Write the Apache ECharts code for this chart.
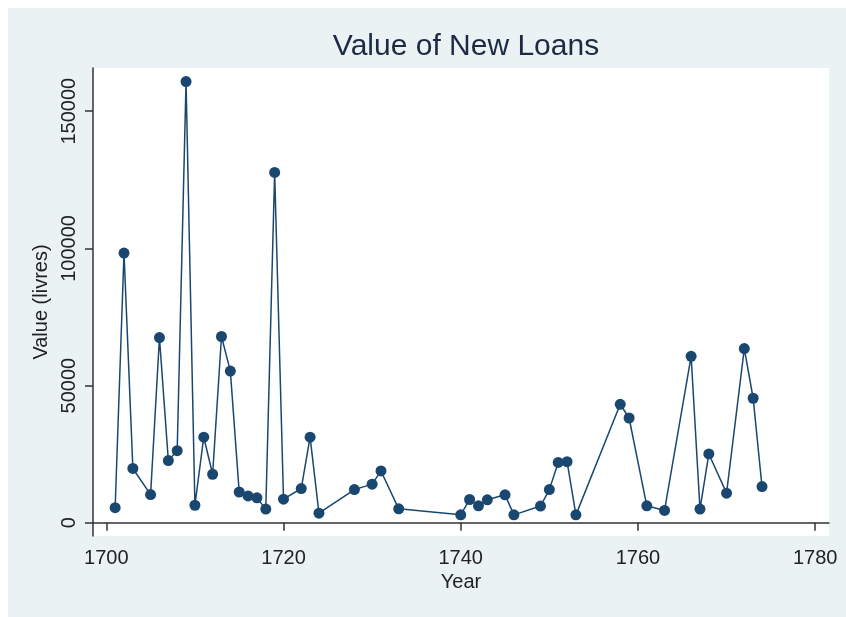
<!DOCTYPE html>
<html>
<head>
<meta charset="utf-8">
<script src="https://cdn.jsdelivr.net/npm/echarts@6/dist/echarts.min.js"></script>
<style>
  html, body { margin: 0; padding: 0; background: #fff; }
  #chart { width: 846px; height: 617px; }
</style>
</head>
<body>
<div id="chart"></div>
<script>
// loan years and values (livres)
const years = [1701, 1702, 1703, 1705, 1706, 1707, 1708, 1709, 1710, 1711,
  1712, 1713, 1714, 1715, 1716, 1717, 1718, 1719, 1720, 1722,
  1723, 1724, 1728, 1730, 1731, 1733, 1740, 1741, 1742, 1743,
  1745, 1746, 1749, 1750, 1751, 1752, 1753, 1758, 1759, 1761,
  1763, 1766, 1767, 1768, 1770, 1772, 1773, 1774];
const values = [5500, 98300, 19800, 10300, 67500, 22700, 26300, 160800, 6400, 31200,
  17700, 67900, 55300, 11200, 9800, 9100, 5000, 127700, 8600, 12500,
  31200, 3500, 12100, 14100, 18900, 5100, 2900, 8500, 6200, 8400,
  10200, 2900, 6100, 12100, 22000, 22300, 2900, 43200, 38200, 6200,
  4500, 60700, 5000, 25100, 10800, 63500, 45400, 13200];
const xTicks = [1700, 1720, 1740, 1760, 1780];
const yTicks = [0, 50000, 100000, 150000];

const font = "'Liberation Sans', Arial, sans-serif";
const navy = "#1a476f";
const ink = "#222";

const chart = echarts.init(document.getElementById("chart"), null, { renderer: "canvas" });

chart.setOption({
  backgroundColor: "#fff",
  animation: false,
  graphic: [{
    type: "rect",
    z: -10,
    shape: { x: 8, y: 8, width: 838, height: 609 },
    style: { fill: "#eaf2f3" }
  }],
  title: {
    text: "Value of New Loans",
    left: 461,
    top: 27,
    textAlign: "center",
    textStyle: { fontFamily: font, fontSize: 30, fontWeight: "normal", color: "#1c2a44" }
  },
  grid: {
    left: 93, right: 17, top: 68, bottom: 81,
    show: true, backgroundColor: "#fff", borderWidth: 0
  },
  xAxis: {
    type: "value",
    min: 1698.5,
    max: 1781.56,
    name: "Year",
    nameLocation: "middle",
    nameGap: 34,
    nameTextStyle: { fontFamily: font, fontSize: 20, color: ink },
    axisLine: { show: true, lineStyle: { color: "#333", width: 1.5 } },
    axisTick: { show: true, length: 8, customValues: xTicks, lineStyle: { color: "#333", width: 1.5 } },
    axisLabel: {
      customValues: xTicks, margin: 12, fontFamily: font, fontSize: 20, color: ink,
      formatter: (v) => String(v)
    },
    splitLine: { show: false }
  },
  yAxis: {
    type: "value",
    min: -4806,
    max: 165760,
    name: "Value (livres)",
    nameLocation: "middle",
    nameGap: 38,
    nameTextStyle: { fontFamily: font, fontSize: 20, color: ink },
    axisLine: { show: true, lineStyle: { color: "#333", width: 1.5 } },
    axisTick: { show: true, length: 8, customValues: yTicks, lineStyle: { color: "#333", width: 1.5 } },
    axisLabel: {
      customValues: yTicks, rotate: 90, margin: 14, fontFamily: font, fontSize: 20, color: ink,
      formatter: (v) => String(v)
    },
    splitLine: { show: false }
  },
  series: [{
    type: "line",
    data: years.map((y, i) => [y, values[i]]),
    symbol: "circle",
    symbolSize: 11,
    showAllSymbol: true,
    lineStyle: { color: navy, width: 1.5 },
    itemStyle: { color: navy }
  }]
});
</script>
</body>
</html>
